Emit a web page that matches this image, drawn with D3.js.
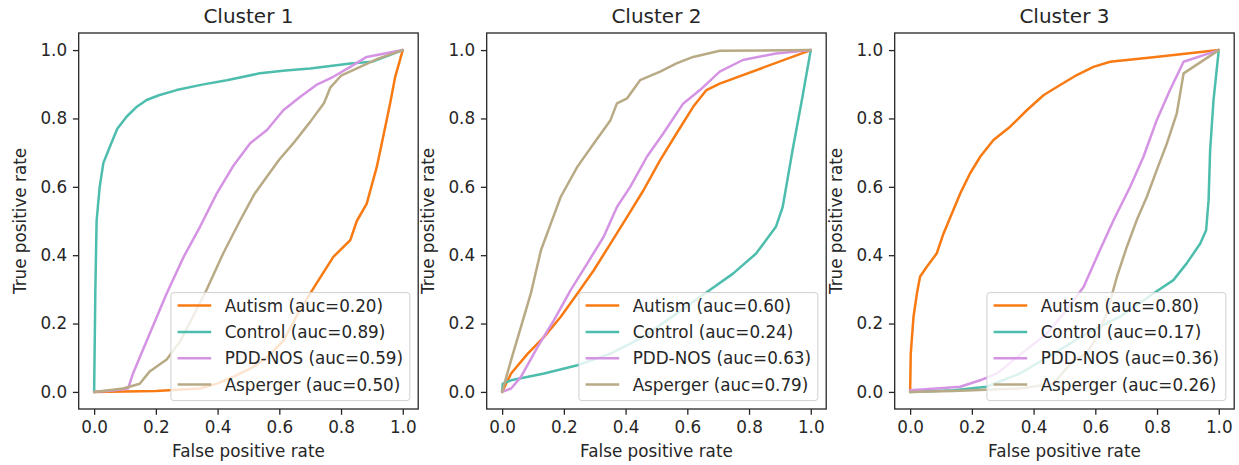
<!DOCTYPE html>
<html>
<head>
<meta charset="utf-8">
<script src="https://d3js.org/d3.v7.min.js"></script>
<style>
  body { margin: 0; background: #fff; }
  svg text { font-family: "DejaVu Sans", sans-serif; fill: #262626; }
  .tick-label { font-size: 16.8px; }
  .axis-label { font-size: 16.8px; }
  .title { font-size: 20px; }
  .legend-text { font-size: 16.8px; }
  .curve { fill: none; stroke-width: 2.5; stroke-linejoin: round; stroke-linecap: round; }
</style>
</head>
<body>
<script>
const WIDTH = 1239, HEIGHT = 465;
const PANEL_LEFT0 = 78.7, PANEL_STEP = 408, PANEL_W = 339.5;
const PANEL_TOP = 33, PANEL_BOTTOM = 409;
const FS = 16.8;

const CLUSTERS = ["Cluster 1", "Cluster 2", "Cluster 3"];
const CLASSES = ["Autism", "Control", "PDD-NOS", "Asperger"];
const COLORS = ["#f87a12", "#4dbdad", "#d593e3", "#b8aa85"];
const TICKS = [0, 0.2, 0.4, 0.6, 0.8, 1.0];

// auc per cluster, in class order
const AUC = [
  [0.20, 0.89, 0.59, 0.50],
  [0.60, 0.24, 0.63, 0.79],
  [0.80, 0.17, 0.36, 0.26]
];

// ROC curves: [fpr, tpr]
const c1Autism = [[0,0],[0.2,0.003],[0.343,0.01],[0.40,0.025],[0.45,0.044],[0.51,0.07],[0.56,0.10],[0.613,0.15],[0.667,0.24],[0.72,0.317],[0.775,0.395],[0.83,0.444],[0.851,0.50],[0.883,0.55],[0.916,0.659],[0.935,0.74],[0.959,0.844],[0.975,0.92],[1,1]];
const c1Control = [[0,0],[0.004,0.3],[0.008,0.5],[0.018,0.6],[0.03,0.67],[0.051,0.717],[0.075,0.77],[0.105,0.805],[0.135,0.832],[0.17,0.854],[0.21,0.868],[0.267,0.883],[0.35,0.899],[0.43,0.912],[0.537,0.932],[0.62,0.94],[0.70,0.946],[0.83,0.961],[0.90,0.966],[1,1]];
const c1Pdd = [[0,0],[0.06,0.004],[0.11,0.01],[0.126,0.054],[0.18,0.17],[0.235,0.288],[0.29,0.395],[0.343,0.483],[0.397,0.58],[0.45,0.66],[0.505,0.727],[0.56,0.766],[0.613,0.824],[0.667,0.863],[0.72,0.898],[0.775,0.922],[0.83,0.951],[0.883,0.98],[1,1]];
const c1Asperger = [[0,0],[0.094,0.01],[0.148,0.024],[0.18,0.06],[0.235,0.095],[0.28,0.15],[0.32,0.22],[0.364,0.298],[0.418,0.405],[0.472,0.50],[0.52,0.58],[0.559,0.629],[0.60,0.68],[0.645,0.727],[0.70,0.79],[0.745,0.845],[0.765,0.89],[0.80,0.925],[0.862,0.951],[0.92,0.975],[1,1]];

const c2Autism = [[0,0],[0.029,0.054],[0.083,0.112],[0.136,0.161],[0.19,0.22],[0.244,0.288],[0.297,0.356],[0.351,0.434],[0.405,0.512],[0.458,0.59],[0.512,0.678],[0.565,0.756],[0.619,0.834],[0.662,0.883],[0.705,0.902],[1,1]];
const c2Control = [[0,0],[0.002,0.024],[0.029,0.034],[0.136,0.054],[0.244,0.078],[0.351,0.112],[0.458,0.161],[0.565,0.229],[0.673,0.298],[0.748,0.346],[0.823,0.405],[0.887,0.483],[0.909,0.541],[0.941,0.707],[0.973,0.863],[1,1]];
const c2Pdd = [[0,0],[0.029,0.01],[0.061,0.044],[0.115,0.132],[0.168,0.21],[0.222,0.298],[0.276,0.376],[0.329,0.454],[0.372,0.541],[0.415,0.6],[0.469,0.688],[0.522,0.756],[0.587,0.844],[0.641,0.883],[0.705,0.937],[0.78,0.971],[0.887,0.99],[1,1]];
const c2Asperger = [[0,0],[0.029,0.093],[0.061,0.19],[0.093,0.288],[0.126,0.415],[0.158,0.493],[0.19,0.571],[0.244,0.659],[0.297,0.727],[0.351,0.795],[0.372,0.844],[0.405,0.859],[0.447,0.912],[0.512,0.937],[0.565,0.961],[0.619,0.98],[0.705,0.998],[1,1]];

const c3Autism = [[0,0],[0.002,0.112],[0.011,0.22],[0.022,0.288],[0.032,0.337],[0.054,0.366],[0.086,0.405],[0.108,0.463],[0.14,0.532],[0.162,0.58],[0.194,0.639],[0.227,0.688],[0.27,0.737],[0.324,0.776],[0.378,0.824],[0.432,0.868],[0.486,0.898],[0.54,0.927],[0.594,0.951],[0.648,0.966],[0.788,0.979],[1,1]];
const c3Control = [[0,0],[0.14,0.005],[0.248,0.015],[0.356,0.054],[0.464,0.112],[0.572,0.171],[0.68,0.22],[0.788,0.288],[0.853,0.327],[0.896,0.376],[0.94,0.434],[0.959,0.473],[0.967,0.561],[0.972,0.707],[0.983,0.854],[1,1]];
const c3Pdd = [[0,0.005],[0.086,0.01],[0.162,0.015],[0.227,0.034],[0.281,0.054],[0.335,0.093],[0.389,0.132],[0.443,0.171],[0.497,0.229],[0.562,0.307],[0.605,0.395],[0.659,0.502],[0.713,0.6],[0.756,0.688],[0.799,0.795],[0.842,0.883],[0.886,0.966],[1,1]];
const c3Asperger = [[0,0],[0.14,0.003],[0.356,0.01],[0.464,0.024],[0.529,0.093],[0.572,0.112],[0.605,0.161],[0.637,0.229],[0.67,0.337],[0.702,0.424],[0.734,0.502],[0.767,0.571],[0.799,0.649],[0.832,0.727],[0.864,0.815],[0.886,0.932],[1,1]];

const CURVES = [
  [c1Autism, c1Control, c1Pdd, c1Asperger],
  [c2Autism, c2Control, c2Pdd, c2Asperger],
  [c3Autism, c3Control, c3Pdd, c3Asperger]
];

var svg = d3.select("body").append("svg")
  .attr("width", WIDTH)
  .attr("height", HEIGHT);

var fmt = d3.format(".1f");

CLUSTERS.forEach(function(title, p) {
  var left = PANEL_LEFT0 + p * PANEL_STEP;
  var right = left + PANEL_W;
  var x = d3.scaleLinear().domain([-0.05, 1.05]).range([left, right]);
  var y = d3.scaleLinear().domain([-0.05, 1.05]).range([PANEL_BOTTOM, PANEL_TOP]);
  var g = svg.append("g");

  // curves
  var line = d3.line().x(function(d) { return x(d[0]); }).y(function(d) { return y(d[1]); });
  CURVES[p].forEach(function(pts, k) {
    g.append("path")
      .datum(pts)
      .attr("class", "curve")
      .attr("stroke", COLORS[k])
      .attr("d", line);
  });

  // axes
  var xAxis = d3.axisBottom(x).tickValues(TICKS).tickFormat(fmt).tickSize(5.8).tickPadding(5.8);
  var yAxis = d3.axisLeft(y).tickValues(TICKS).tickFormat(fmt).tickSize(5.8).tickPadding(5.8);
  var gx = g.append("g").attr("transform", "translate(0," + PANEL_BOTTOM + ")").call(xAxis);
  var gy = g.append("g").attr("transform", "translate(" + left + ",0)").call(yAxis);
  [gx, gy].forEach(function(a) {
    a.select(".domain").remove();
    a.selectAll(".tick line").attr("stroke", "#262626").attr("stroke-width", 1.3);
    a.selectAll(".tick text").attr("class", "tick-label").attr("font-size", null).attr("font-family", null);
  });
  gx.attr("font-size", null).attr("font-family", null);
  gy.attr("font-size", null).attr("font-family", null);

  // frame
  g.append("rect")
    .attr("x", left).attr("y", PANEL_TOP)
    .attr("width", right - left).attr("height", PANEL_BOTTOM - PANEL_TOP)
    .attr("fill", "none").attr("stroke", "#262626").attr("stroke-width", 1.3);

  // title and labels
  g.append("text").attr("class", "title")
    .attr("x", (left + right) / 2).attr("y", 23)
    .attr("text-anchor", "middle").text(title);
  g.append("text").attr("class", "axis-label")
    .attr("x", (left + right) / 2).attr("y", 457)
    .attr("text-anchor", "middle").text("False positive rate");
  g.append("text").attr("class", "axis-label")
    .attr("transform", "translate(" + (left - 52.5) + "," + ((PANEL_TOP + PANEL_BOTTOM) / 2) + ") rotate(-90)")
    .attr("text-anchor", "middle").text("True positive rate");

  // legend
  var pad = 0.4 * FS, hl = 2 * FS, htp = 0.8 * FS, rowH = 26.3, axPad = 0.5 * FS;
  var lg = g.append("g");
  var box = lg.append("rect");
  var labels = CLASSES.map(function(c, k) { return c + " (auc=" + AUC[p][k].toFixed(2) + ")"; });
  var texts = lg.selectAll("text.legend-text").data(labels).enter().append("text")
    .attr("class", "legend-text").text(function(d) { return d; });
  var maxW = 0;
  texts.each(function() { maxW = Math.max(maxW, this.getComputedTextLength()); });
  var boxW = pad + hl + htp + maxW + pad;
  var boxH = 108;
  var bx = right - axPad - boxW, by = PANEL_BOTTOM - axPad - boxH;
  box.attr("x", bx).attr("y", by).attr("width", boxW).attr("height", boxH)
    .attr("rx", 3).attr("fill", "#fff").attr("fill-opacity", 0.8)
    .attr("stroke", "#d0d0d0").attr("stroke-width", 1);
  var row0 = by + 13;
  lg.selectAll("line.handle").data(labels).enter().append("line")
    .attr("x1", bx + pad).attr("x2", bx + pad + hl)
    .attr("y1", function(d, k) { return row0 + k * rowH; })
    .attr("y2", function(d, k) { return row0 + k * rowH; })
    .attr("stroke", function(d, k) { return COLORS[k]; })
    .attr("stroke-width", 2.5);
  texts.attr("x", bx + pad + hl + htp)
    .attr("y", function(d, k) { return row0 + k * rowH; })
    .attr("dy", "0.36em");
});
</script>
</body>
</html>
